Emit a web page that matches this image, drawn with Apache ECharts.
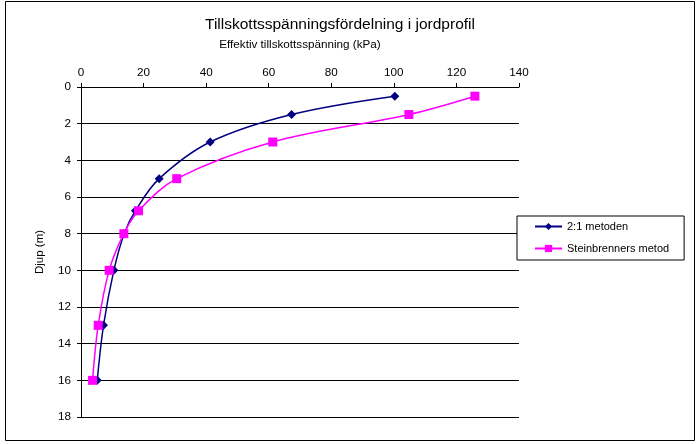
<!DOCTYPE html>
<html>
<head>
<meta charset="utf-8">
<script src="https://cdn.jsdelivr.net/npm/echarts@6/dist/echarts.min.js"></script>
<style>
html,body{margin:0;padding:0;background:#fff;}
#c{width:697px;height:444px;}
</style>
</head>
<body>
<div id="c"></div>
<script>
var depths = [0.5, 1.5, 3, 5, 6.75, 8, 10, 13, 16];
var metod21 = [100.3, 67.3, 41.3, 25, 17.4, 13.8, 10.5, 7.2, 5.2];
var steinbrenner = [125.9, 104.8, 61.3, 30.6, 18.4, 13.7, 9.0, 5.5, 3.7];
var xTicks = [0, 20, 40, 60, 80, 100, 120, 140];
var yTicks = [0, 2, 4, 6, 8, 10, 12, 14, 16, 18];
var seriesNames = ['2:1 metoden', 'Steinbrenners metod'];

var FONT = 'Liberation Sans, Arial, sans-serif';
function pairs(xs){ return xs.map(function(v,i){ return [v, depths[i]]; }); }

var chart = echarts.init(document.getElementById('c'), null, {renderer:'canvas'});
chart.setOption({
  animation: false,
  backgroundColor: '#fff',
  textStyle: {fontFamily: FONT},
  title: {
    text: 'Tillskottsspänningsfördelning i jordprofil',
    left: 200, top: 12,
    textStyle: {fontFamily: FONT, fontSize: 15.5, fontWeight: 'normal', color: '#000'}
  },
  graphic: [{
    type: 'rect', z: -1, silent: true,
    shape: {x: 5.5, y: 1.5, width: 689, height: 439},
    style: {fill: null, stroke: '#000', lineWidth: 1}
  }],
  grid: {left: 81, top: 87, width: 438, height: 330, containLabel: false},
  xAxis: {
    type: 'value', position: 'top',
    min: xTicks[0], max: xTicks[xTicks.length-1], interval: 20,
    name: 'Effektiv tillskottsspänning (kPa)',
    nameLocation: 'middle', nameGap: 36,
    nameTextStyle: {fontFamily: FONT, fontSize: 11.7, color: '#000'},
    axisLine: {show: true, onZero: false, lineStyle: {color: '#000', width: 1}},
    axisTick: {show: true, length: 4, lineStyle: {color: '#000'}},
    axisLabel: {fontFamily: FONT, fontSize: 11.7, color: '#000', margin: 8},
    splitLine: {show: false}
  },
  yAxis: {
    type: 'value', inverse: true,
    min: yTicks[0], max: yTicks[yTicks.length-1], interval: 2,
    name: 'Djup (m)', nameLocation: 'middle', nameGap: 35, nameRotate: 90,
    nameTextStyle: {fontFamily: FONT, fontSize: 11.5, color: '#000'},
    axisLine: {show: true, onZero: false, lineStyle: {color: '#000', width: 1}},
    axisTick: {show: true, length: 4, lineStyle: {color: '#000'}},
    axisLabel: {fontFamily: FONT, fontSize: 11.7, color: '#000', margin: 10},
    splitLine: {show: true, lineStyle: {color: '#000', width: 1}}
  },
  legend: {
    orient: 'vertical', left: 517, top: 216,
    padding: [5, 15, 6, 17], itemGap: 11, itemWidth: 27, itemHeight: 9,
    backgroundColor: '#fff', borderColor: '#000', borderWidth: 1,
    textStyle: {fontFamily: FONT, fontSize: 11, color: '#000'},
    data: seriesNames
  },
  series: [{
    name: seriesNames[0], type: 'line', smooth: 0.35,
    data: pairs(metod21),
    symbol: 'diamond', symbolSize: 9,
    itemStyle: {color: '#000080'},
    lineStyle: {color: '#000080', width: 1.5}
  }, {
    name: seriesNames[1], type: 'line', smooth: 0.35,
    data: pairs(steinbrenner),
    symbol: 'rect', symbolSize: 9,
    itemStyle: {color: '#FF00FF'},
    lineStyle: {color: '#FF00FF', width: 1.5}
  }]
});
</script>
</body>
</html>
